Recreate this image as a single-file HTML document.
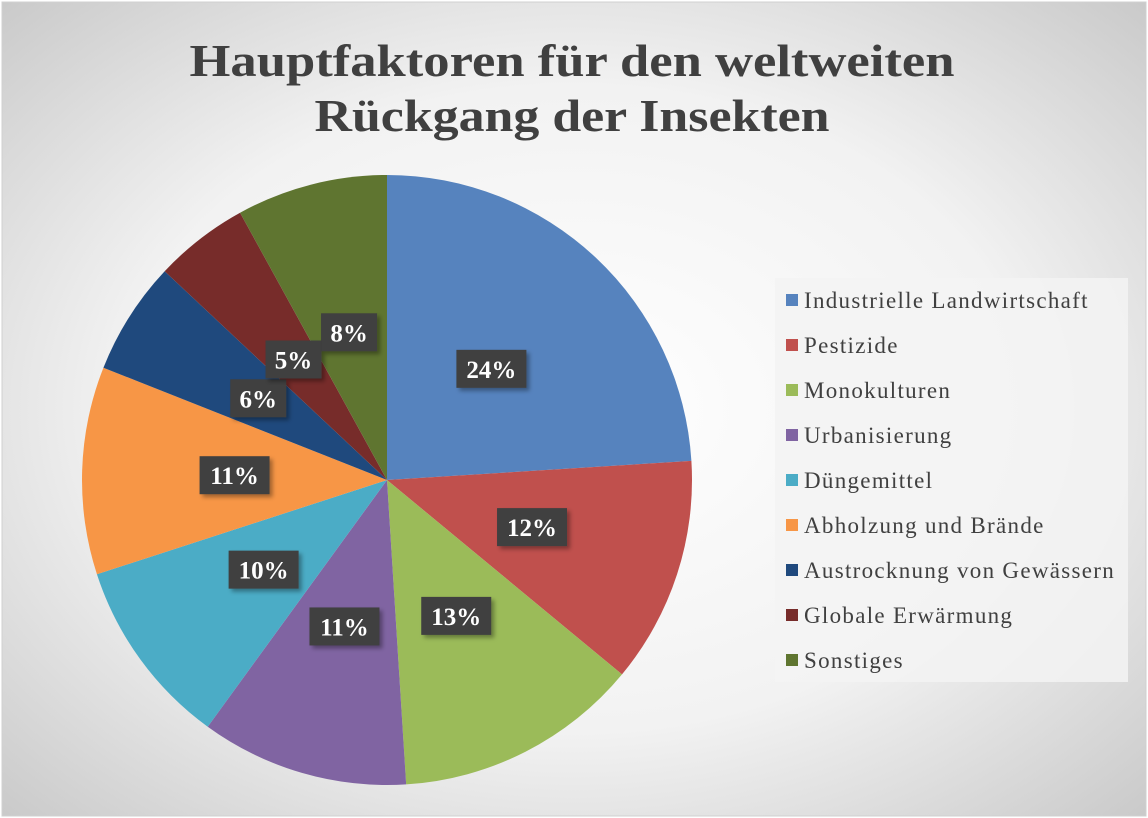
<!DOCTYPE html>
<html><head><meta charset="utf-8"><style>
body{margin:0;width:1148px;height:818px;overflow:hidden;background:#fff}
svg{display:block}
</style></head><body>
<svg width="1148" height="818" viewBox="0 0 1148 818">
<defs>
<radialGradient id="bg" cx="0.5" cy="0.5" r="0.72">
<stop offset="0" stop-color="#ffffff"/><stop offset="0.55" stop-color="#f2f2f2"/><stop offset="1" stop-color="#c8c8c8"/>
</radialGradient>
<filter id="sh" x="-20%" y="-20%" width="140%" height="140%"><feDropShadow dx="3" dy="3" stdDeviation="2" flood-color="#000" flood-opacity="0.35"/></filter>
</defs>
<rect x="2" y="2" width="1144" height="814" fill="url(#bg)" stroke="#d0d0d0"/>
<text x="572" y="76" text-anchor="middle" font-family="Liberation Serif, serif" font-weight="bold" font-size="46" fill="#404040" textLength="765" lengthAdjust="spacingAndGlyphs">Hauptfaktoren für den weltweiten</text>
<text x="572" y="131" text-anchor="middle" font-family="Liberation Serif, serif" font-weight="bold" font-size="46" fill="#404040" textLength="515" lengthAdjust="spacingAndGlyphs">Rückgang der Insekten</text>
<g id="pie"></g>
<g id="labels"></g>
<rect x="775" y="278" width="353" height="404" fill="#f3f3f3" opacity="0.85"/>
<g id="legend"></g>
</svg>
<script>
const categories=["Industrielle Landwirtschaft","Pestizide","Monokulturen","Urbanisierung","Düngemittel","Abholzung und Brände","Austrocknung von Gewässern","Globale Erwärmung","Sonstiges"];
const values=[24,12,13,11,10,11,6,5,8];
const colors=["#5683be","#c0504d","#9bbb59","#8064a2","#4bacc6","#f79646","#1f497d","#772c2a","#5f7530"];
const NS="http://www.w3.org/2000/svg";
const cx=387,cy=480,R=305;
const total=values.reduce((a,b)=>a+b,0);
const pie=document.getElementById('pie'),lab=document.getElementById('labels'),leg=document.getElementById('legend');
function pt(a,r){return [cx+r*Math.sin(a),cy-r*Math.cos(a)];}
let acc=0;
values.forEach((v,i)=>{
 const a0=acc/total*2*Math.PI; acc+=v; const a1=acc/total*2*Math.PI;
 const p0=pt(a0,R),p1=pt(a1,R);
 const path=document.createElementNS(NS,'path');
 path.setAttribute('d',`M${cx},${cy}L${p0[0]},${p0[1]}A${R},${R} 0 ${a1-a0>Math.PI?1:0} 1 ${p1[0]},${p1[1]}Z`);
 path.setAttribute('fill',colors[i]);
 
 
 pie.appendChild(path);
 const am=(a0+a1)/2, c=pt(am,R*0.5);
 const txt=Math.round(v/total*100)+'%';
 const w=txt.length>2?70:56;
 const g=document.createElementNS(NS,'g');
 
 
 const r=document.createElementNS(NS,'rect');
 r.setAttribute('x',c[0]-w/2);r.setAttribute('y',c[1]-19);r.setAttribute('width',w);r.setAttribute('height',38);
 r.setAttribute('fill','#3f3f3f');r.setAttribute('filter','url(#sh)');
 g.appendChild(r);
 const t=document.createElementNS(NS,'text');
 t.setAttribute('x',c[0]);t.setAttribute('y',c[1]+9);t.setAttribute('text-anchor','middle');
 t.setAttribute('font-family','Liberation Serif, serif');t.setAttribute('font-weight','bold');t.setAttribute('font-size','25');t.setAttribute('fill','#fff');
 t.textContent=txt; g.appendChild(t);
 lab.appendChild(g);
});
categories.forEach((n,i)=>{
 const y=300+i*45;
 const g=document.createElementNS(NS,'g');
 
 
 const s=document.createElementNS(NS,'rect');
 s.setAttribute('x',786);s.setAttribute('y',y-6);s.setAttribute('width',12);s.setAttribute('height',12);s.setAttribute('fill',colors[i]);
 g.appendChild(s);
 const t=document.createElementNS(NS,'text');
 t.setAttribute('x',804);t.setAttribute('y',y+8);t.setAttribute('font-family','Liberation Serif, serif');t.setAttribute('font-size','23');t.setAttribute('letter-spacing','1.3');t.setAttribute('fill','#404040');
 t.textContent=n; g.appendChild(t);
 leg.appendChild(g);
});
</script>
</body></html>
